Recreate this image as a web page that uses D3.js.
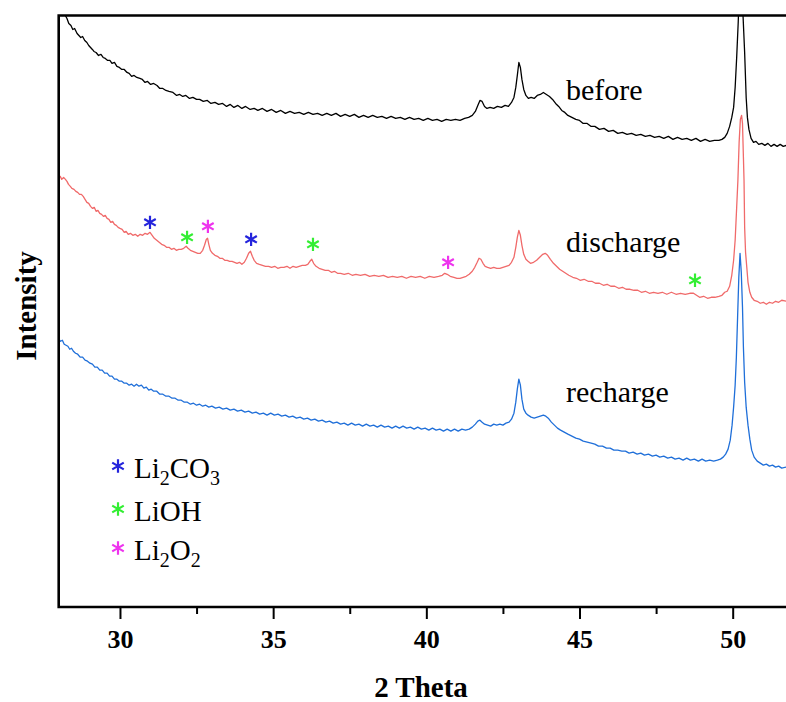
<!DOCTYPE html>
<html>
<head>
<meta charset="utf-8">
<script src="https://cdn.jsdelivr.net/npm/d3@7"></script>
<style>body{margin:0;background:#fff}</style>
</head>
<body>
<script>
// XRD patterns, [2 theta (deg), intensity (a.u.)]
const before = [[28.00,599],[28.08,597],[28.14,592],[28.2,593],[28.27,589],[28.33,584],[28.4,582],[28.46,578],[28.52,579],[28.6,574],[28.66,572],[28.72,570],[28.78,571],[28.85,567],[28.92,565],[28.98,562],[29.04,560],[29.1,558],[29.15,556],[29.22,555],[29.3,552],[29.38,553],[29.45,550],[29.52,549],[29.6,547],[29.67,547],[29.74,544],[29.82,545],[29.9,541],[29.98,540],[30.06,538],[30.14,538],[30.23,535],[30.3,534],[30.38,531],[30.46,532],[30.55,530],[30.65,529],[30.73,528],[30.82,525],[30.9,526],[31.0,523],[31.1,524],[31.21,522],[31.3,519],[31.4,519],[31.5,517],[31.6,516],[31.73,515],[31.85,512],[31.95,513],[32.05,511],[32.15,512],[32.27,509],[32.38,510],[32.5,508],[32.6,508],[32.72,506],[32.85,507],[32.97,504],[33.1,505],[33.22,503],[33.35,504],[33.48,501],[33.6,503],[33.72,500],[33.85,502],[33.98,499],[34.1,501],[34.25,498],[34.38,499],[34.5,497],[34.65,499],[34.8,496],[34.95,498],[35.1,495],[35.25,497],[35.4,494],[35.55,496],[35.7,494],[35.85,495],[36.0,493],[36.15,495],[36.3,493],[36.45,494],[36.6,492],[36.75,494],[36.9,492],[37.05,494],[37.2,491],[37.35,493],[37.5,491],[37.65,493],[37.8,490],[37.95,492],[38.1,490],[38.25,492],[38.4,490],[38.55,491],[38.7,489],[38.85,491],[39.0,489],[39.15,490],[39.3,488],[39.45,490],[39.6,488],[39.75,489],[39.9,487],[40.05,489],[40.2,487],[40.35,488],[40.5,486],[40.65,488],[40.8,487],[40.95,488],[41.1,487],[41.25,489],[41.38,490],[41.5,492],[41.6,496],[41.68,502],[41.75,507],[41.82,506],[41.9,501],[41.98,499],[42.08,500],[42.2,499],[42.32,501],[42.45,500],[42.57,502],[42.68,501],[42.78,505],[42.86,510],[42.92,520],[42.97,532],[43.02,545],[43.07,540],[43.12,528],[43.18,518],[43.25,512],[43.33,509],[43.42,510],[43.52,509],[43.62,512],[43.72,513],[43.82,515],[43.92,513],[44.02,511],[44.12,508],[44.22,504],[44.32,501],[44.42,497],[44.52,495],[44.62,492],[44.75,490],[44.88,488],[45.0,487],[45.12,484],[45.25,484],[45.38,481],[45.5,481],[45.65,478],[45.8,479],[45.95,476],[46.1,477],[46.25,474],[46.4,475],[46.55,473],[46.7,474],[46.85,472],[47.0,473],[47.15,471],[47.3,472],[47.45,470],[47.6,471],[47.75,469],[47.9,471],[48.05,468],[48.2,470],[48.35,468],[48.5,469],[48.65,467],[48.8,469],[48.95,466],[49.1,468],[49.25,466],[49.4,467],[49.55,467],[49.65,468],[49.74,470],[49.82,474],[49.9,481],[49.97,490],[50.03,500],[50.08,520],[50.13,550],[50.18,585],[50.22,620],[50.26,647],[50.30,625],[50.34,590],[50.39,555],[50.44,510],[50.48,490],[50.53,478],[50.6,469],[50.68,465],[50.76,466],[50.85,463],[50.95,464],[51.05,462],[51.15,464],[51.25,461],[51.35,463],[51.45,461],[51.55,463],[51.65,461],[51.75,462]]

const discharge = [[28.0,429],[28.05,431],[28.1,428],[28.16,430],[28.22,428],[28.27,426],[28.32,423],[28.38,421],[28.43,419],[28.5,418],[28.56,416],[28.62,415],[28.68,413],[28.74,413],[28.8,411],[28.86,408],[28.92,405],[28.98,404],[29.04,401],[29.1,399],[29.16,400],[29.22,396],[29.28,397],[29.34,394],[29.4,393],[29.46,391],[29.52,392],[29.58,389],[29.64,388],[29.7,385],[29.76,386],[29.82,383],[29.88,382],[29.94,380],[30.0,379],[30.07,378],[30.14,375],[30.2,376],[30.27,373],[30.34,374],[30.42,372],[30.5,373],[30.58,371],[30.66,373],[30.74,372],[30.82,374],[30.9,373],[30.98,375],[31.05,372],[31.12,369],[31.2,367],[31.28,365],[31.36,363],[31.44,362],[31.52,360],[31.6,360],[31.68,358],[31.76,359],[31.84,357],[31.92,358],[32.0,358],[32.08,359],[32.16,361],[32.22,359],[32.3,357],[32.38,356],[32.46,355],[32.54,354],[32.62,354],[32.7,357],[32.76,362],[32.82,368],[32.86,369],[32.9,363],[32.95,357],[33.02,354],[33.1,352],[33.18,351],[33.26,349],[33.34,349],[33.42,347],[33.5,347],[33.58,346],[33.66,346],[33.74,345],[33.82,344],[33.9,345],[33.98,343],[34.06,345],[34.13,349],[34.2,354],[34.26,356],[34.32,351],[34.38,347],[34.46,344],[34.55,343],[34.65,342],[34.75,341],[34.85,341],[34.95,340],[35.05,341],[35.15,339],[35.25,340],[35.35,340],[35.45,341],[35.55,339],[35.65,341],[35.75,340],[35.85,341],[35.95,342],[36.05,342],[36.13,343],[36.2,346],[36.26,348],[36.32,344],[36.4,341],[36.5,339],[36.6,338],[36.7,337],[36.8,337],[36.9,335],[37.0,336],[37.1,334],[37.2,334],[37.32,333],[37.45,334],[37.58,332],[37.7,333],[37.85,332],[38.0,333],[38.15,331],[38.3,332],[38.45,331],[38.6,332],[38.75,330],[38.9,331],[39.05,330],[39.2,331],[39.35,329],[39.5,331],[39.65,330],[39.8,331],[39.95,329],[40.1,331],[40.25,330],[40.4,331],[40.52,332],[40.6,334],[40.68,333],[40.78,331],[40.9,330],[41.0,329],[41.1,329],[41.2,330],[41.3,331],[41.4,333],[41.5,336],[41.58,340],[41.66,345],[41.72,349],[41.78,348],[41.85,344],[41.92,341],[42.0,340],[42.1,339],[42.2,340],[42.3,339],[42.4,339],[42.5,340],[42.6,341],[42.7,342],[42.78,345],[42.86,350],[42.92,360],[42.97,370],[43.02,377],[43.07,372],[43.12,362],[43.18,353],[43.25,348],[43.32,346],[43.4,344],[43.5,345],[43.6,347],[43.7,350],[43.8,353],[43.88,354],[43.96,352],[44.05,348],[44.15,344],[44.25,341],[44.35,338],[44.45,336],[44.55,334],[44.65,332],[44.78,330],[44.9,329],[45.02,327],[45.15,328],[45.28,326],[45.4,326],[45.52,324],[45.65,324],[45.78,322],[45.9,323],[46.02,321],[46.15,321],[46.28,319],[46.4,320],[46.52,318],[46.65,318],[46.78,317],[46.9,317],[47.02,315],[47.15,316],[47.28,314],[47.42,315],[47.56,314],[47.7,315],[47.85,313],[48.0,315],[48.15,313],[48.3,314],[48.45,313],[48.6,314],[48.72,314],[48.82,312],[48.92,310],[49.05,311],[49.18,309],[49.3,310],[49.42,310],[49.55,311],[49.65,312],[49.74,315],[49.82,316],[49.9,321],[49.97,332],[50.03,347],[50.08,367],[50.13,400],[50.17,427],[50.21,465],[50.25,488],[50.29,492],[50.32,484],[50.35,450],[50.37,427],[50.39,380],[50.42,355],[50.46,340],[50.5,325],[50.56,315],[50.62,310],[50.7,307],[50.8,306],[50.9,304],[51.0,305],[51.1,303],[51.2,305],[51.3,304],[51.4,306],[51.5,305],[51.6,307],[51.75,306]]

const recharge = [[28.0,268],[28.06,266],[28.12,267],[28.18,263],[28.24,262],[28.3,261],[28.36,258],[28.42,259],[28.48,256],[28.55,254],[28.62,253],[28.7,250],[28.78,250],[28.86,247],[28.94,246],[29.02,244],[29.1,243],[29.18,240],[29.26,240],[29.34,237],[29.42,237],[29.5,234],[29.58,234],[29.66,231],[29.74,231],[29.82,228],[29.9,228],[29.98,226],[30.06,226],[30.14,224],[30.22,224],[30.3,222],[30.38,223],[30.46,221],[30.54,223],[30.62,221],[30.7,222],[30.78,219],[30.86,220],[30.94,217],[31.02,218],[31.1,216],[31.2,216],[31.3,213],[31.4,213],[31.5,211],[31.6,211],[31.7,209],[31.8,209],[31.9,207],[32.0,207],[32.1,205],[32.2,205],[32.3,203],[32.4,204],[32.5,202],[32.6,203],[32.7,201],[32.8,202],[32.9,200],[33.0,201],[33.12,199],[33.24,200],[33.36,198],[33.48,199],[33.6,197],[33.72,198],[33.84,196],[33.96,197],[34.08,195],[34.2,196],[34.32,194],[34.44,195],[34.56,193],[34.68,194],[34.8,192],[34.92,194],[35.04,192],[35.16,193],[35.28,191],[35.4,192],[35.52,190],[35.64,191],[35.76,189],[35.88,190],[36.0,188],[36.12,189],[36.24,187],[36.36,188],[36.48,186],[36.6,187],[36.72,185],[36.84,186],[36.96,184],[37.08,185],[37.2,183],[37.32,184],[37.44,182],[37.56,184],[37.68,182],[37.8,183],[37.92,181],[38.04,183],[38.16,181],[38.28,182],[38.4,180],[38.52,182],[38.64,180],[38.76,181],[38.88,179],[39.0,181],[39.12,179],[39.24,181],[39.36,179],[39.48,180],[39.6,178],[39.72,180],[39.84,178],[39.96,179],[40.08,177],[40.2,179],[40.32,177],[40.44,178],[40.56,176],[40.68,178],[40.8,176],[40.92,178],[41.04,176],[41.16,178],[41.28,177],[41.4,178],[41.5,180],[41.6,183],[41.68,186],[41.75,187],[41.82,185],[41.9,183],[42.0,182],[42.1,181],[42.2,183],[42.3,182],[42.4,183],[42.5,182],[42.6,184],[42.7,185],[42.78,188],[42.86,194],[42.92,205],[42.97,218],[43.02,228],[43.07,222],[43.12,208],[43.18,198],[43.25,194],[43.32,192],[43.42,190],[43.52,189],[43.62,190],[43.72,191],[43.82,192],[43.9,191],[43.98,189],[44.08,185],[44.18,182],[44.28,179],[44.38,177],[44.5,175],[44.62,173],[44.75,171],[44.88,169],[45.0,168],[45.12,166],[45.25,165],[45.38,164],[45.5,163],[45.62,161],[45.75,161],[45.88,159],[46.0,159],[46.12,157],[46.25,157],[46.38,156],[46.5,156],[46.62,154],[46.75,155],[46.88,153],[47.0,154],[47.12,152],[47.25,153],[47.38,151],[47.5,152],[47.62,150],[47.75,151],[47.88,149],[48.0,150],[48.12,148],[48.25,149],[48.38,147],[48.5,149],[48.62,147],[48.75,148],[48.88,146],[49.0,148],[49.12,146],[49.25,147],[49.38,146],[49.5,147],[49.6,148],[49.69,150],[49.77,153],[49.85,158],[49.92,167],[49.98,182],[50.03,200],[50.08,222],[50.12,250],[50.16,290],[50.2,330],[50.24,354],[50.28,335],[50.32,300],[50.35,260],[50.39,225],[50.44,200],[50.5,182],[50.56,168],[50.62,157],[50.7,150],[50.8,146],[50.9,144],[51.0,142],[51.1,143],[51.2,141],[51.3,142],[51.4,140],[51.5,141],[51.6,139],[51.75,140]]

const seriesNames = ["before", "discharge", "recharge"]
const seriesColors = ["#000000", "#f06a6a", "#1f6fd9"]
const labelTheta = [44.56, 44.56, 44.56]
const labelIntensity = [507, 355, 205]

// phase markers on the discharge pattern
const phases = ["Li2CO3", "LiOH", "Li2O2"]
const phaseColors = ["#2424dc", "#33ee33", "#ee33ee"]
const markerTheta = [30.98, 32.19, 32.87, 34.28, 36.3, 40.71, 48.77]
const markerIntensity = [385, 370, 381, 368, 363, 345, 327]
const markerPhase = ["Li2CO3", "LiOH", "Li2O2", "Li2CO3", "LiOH", "Li2O2", "LiOH"]

const majorTicks = [30, 35, 40, 45, 50]
const minorTicks = [32.5, 37.5, 42.5, 47.5]

const width = 786, height = 702
const marginTop = 15.5, marginLeft = 58.7, marginBottom = 95
const serif = "'Liberation Serif', 'Times New Roman', serif"

const x = d3.scaleLinear([28, 51.74], [marginLeft, width])
const y = d3.scaleLinear([0, 592], [height - marginBottom, marginTop])
const color = d3.scaleOrdinal(phases, phaseColors)

const svg = d3.select("body").append("svg")
	.attr("width", width)
	.attr("height", height)
	.attr("viewBox", [0, 0, width, height])

svg.append("clipPath").attr("id", "plot")
	.append("rect")
	.attr("x", marginLeft).attr("y", marginTop)
	.attr("width", width - marginLeft).attr("height", height - marginBottom - marginTop)

const line = d3.line()
	.x(d => x(d[0]))
	.y(d => y(d[1]))

svg.append("g")
	.attr("clip-path", "url(#plot)")
	.selectAll("path")
	.data([before, discharge, recharge])
	.join("path")
	.attr("fill", "none")
	.attr("stroke", (d, i) => seriesColors[i])
	.attr("stroke-width", 1.3)
	.attr("stroke-linejoin", "round")
	.attr("d", line)

// series names
svg.append("g")
	.attr("font-family", serif)
	.attr("font-size", 30)
	.selectAll("text")
	.data(seriesNames)
	.join("text")
	.attr("x", (d, i) => x(labelTheta[i]))
	.attr("y", (d, i) => y(labelIntensity[i]))
	.text(d => d)

const star = d3.symbol(d3.symbolAsterisk, 125)

svg.append("g")
	.selectAll("path")
	.data(markerTheta)
	.join("path")
	.attr("transform", (d, i) => `translate(${x(d)},${y(markerIntensity[i])})`)
	.attr("d", star)
	.attr("fill", "none")
	.attr("stroke", (d, i) => color(markerPhase[i]))
	.attr("stroke-width", 2.2)

// axes
const gx = svg.append("g")
	.attr("transform", `translate(0,${height - marginBottom})`)
	.call(d3.axisBottom(x).tickValues(majorTicks).tickSize(12).tickSizeOuter(0))
gx.call(g => g.select(".domain").remove())
gx.selectAll(".tick line").attr("stroke-width", 2)
gx.selectAll(".tick text")
	.attr("dy", null)
	.attr("y", 41)
	.attr("font-family", serif)
	.attr("font-weight", "bold")
	.attr("font-size", 26)
	.attr("fill", "#000")

svg.append("g")
	.attr("transform", `translate(0,${height - marginBottom})`)
	.call(d3.axisBottom(x).tickValues(minorTicks).tickSize(7).tickFormat(""))
	.call(g => g.select(".domain").remove())
	.call(g => g.selectAll(".tick line").attr("stroke-width", 2))

// frame: top, left, bottom (right side runs off the page)
svg.append("path")
	.attr("fill", "none")
	.attr("stroke", "#000")
	.attr("stroke-width", 2.6)
	.attr("d", `M${width + 10},${marginTop}H${marginLeft}V${height - marginBottom}H${width + 10}`)

svg.append("text")
	.attr("x", 421)
	.attr("y", 697)
	.attr("text-anchor", "middle")
	.attr("font-family", serif)
	.attr("font-weight", "bold")
	.attr("font-size", 29)
	.text("2 Theta")

svg.append("text")
	.attr("transform", "translate(36,306) rotate(-90)")
	.attr("text-anchor", "middle")
	.attr("font-family", serif)
	.attr("font-weight", "bold")
	.attr("font-size", 29)
	.text("Intensity")

// legend
const legend = svg.append("g")
	.selectAll("g")
	.data(phases)
	.join("g")
	.attr("transform", (d, i) => `translate(118,${[478, 521, 560][i]})`)

legend.append("path")
	.attr("transform", "translate(0,-12)")
	.attr("d", star)
	.attr("fill", "none")
	.attr("stroke", d => color(d))
	.attr("stroke-width", 2.2)

legend.append("text")
	.attr("x", 16)
	.attr("font-family", serif)
	.attr("font-size", 29)
	.each(function(d) {
		const t = d3.select(this)
		let shifted = false
		for (const part of d.match(/[A-Za-z]+|\d+/g)) {
			const sub = /\d/.test(part)
			const span = t.append("tspan").text(part)
			if (sub) span.attr("font-size", 20)
			if (sub !== shifted) span.attr("dy", sub ? 7 : -7)
			shifted = sub
		}
	})
</script>
</body>
</html>
